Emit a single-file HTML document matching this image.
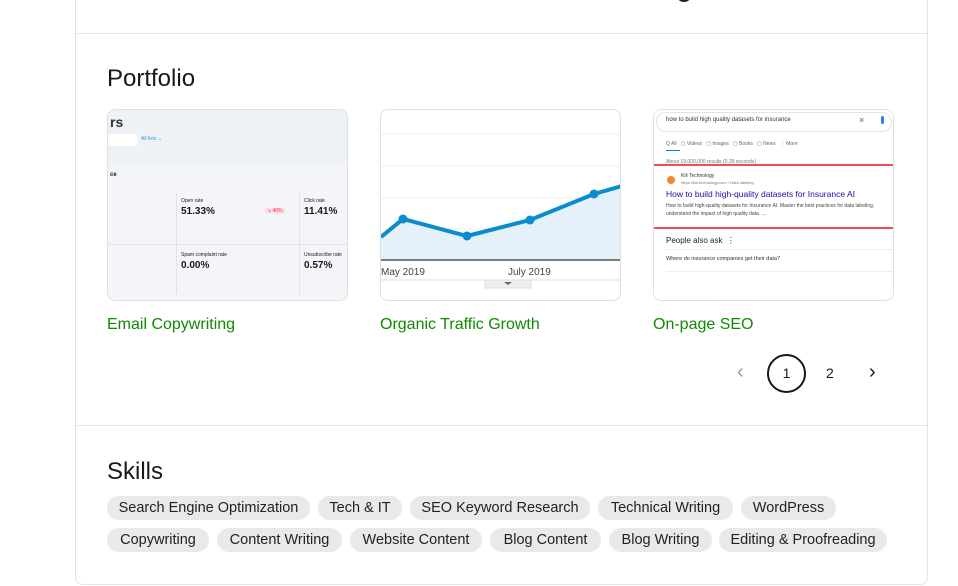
<!DOCTYPE html>
<html><head><meta charset="utf-8"><style>
*{margin:0;padding:0;box-sizing:border-box}
body{width:958px;height:586px;background:#fff;font-family:"Liberation Sans",sans-serif;color:#181818;position:relative;overflow:hidden}
.a{position:absolute}
.card{left:75px;top:-10px;width:853px;height:595px;border:1px solid #e4e4e4;border-top:none;border-radius:0 0 8px 8px}
.hr{height:1px;background:#e4e4e4;left:76px;width:851px}
.th{width:241px;height:192px;border:1px solid #e0e0e0;border-radius:8px;overflow:hidden;top:109px}
.tt{top:315px;color:#108a00;font-size:16px}
.pill{height:24px;background:#e9e9e9;border-radius:12px;font-size:14.5px;line-height:25px;text-align:center;color:#222}
h2{font-weight:400;font-size:24px;position:absolute}
</style></head><body>
<div class="a card"></div>
<div class="a" style="left:676px;top:-6px;width:16px;height:8px;background:#222;border-radius:0 0 8px 8px"></div>
<div class="a hr" style="top:33px"></div>
<div class="a hr" style="top:425px"></div>
<h2 style="left:107px;top:65px">Portfolio</h2>

<div class="a th" style="left:107px;background:#f3f5f8">
 <div class="a" style="left:0;top:0;width:241px;height:55px;background:#eef1f5"></div>
 <div class="a" style="left:2px;top:4px;font-size:14px;font-weight:700;color:#333">rs</div>
 <div class="a" style="left:0;top:24px;width:30px;height:12px;background:#fff;border-radius:3px"></div>
 <div class="a" style="left:33px;top:26px;font-size:5px;color:#3a9be0">All lists ⌄</div>
 <div class="a" style="left:2px;top:62px;font-size:6px;font-weight:700">ce</div>
 <div class="a" style="left:73px;top:88px;font-size:5px">Open rate</div>
 <div class="a" style="left:73px;top:96px;font-size:10px;font-weight:700">51.33%</div>
 <div class="a" style="left:196px;top:88px;font-size:5px">Click rate</div>
 <div class="a" style="left:196px;top:96px;font-size:10px;font-weight:700">11.41%</div>
 <div class="a" style="left:68px;top:84px;width:1px;height:100px;background:#e0e3e8"></div>
 <div class="a" style="left:191px;top:84px;width:1px;height:100px;background:#e0e3e8"></div>
 <div class="a" style="left:0;top:134px;width:241px;height:1px;background:#e0e3e8"></div>
 <div class="a" style="left:73px;top:142px;font-size:5px">Spam complaint rate</div>
 <div class="a" style="left:73px;top:150px;font-size:10px;font-weight:700">0.00%</div>
 <div class="a" style="left:196px;top:142px;font-size:5px">Unsubscribe rate</div>
 <div class="a" style="left:196px;top:150px;font-size:10px;font-weight:700">0.57%</div>
 <div class="a" style="left:157px;top:98px;font-size:5px;color:#e33;background:#fde;padding:0 2px">↘ 40%</div>
</div>

<div class="a th" style="left:380px;background:#fff">
 <svg width="241" height="192" class="a" style="left:0;top:0">
  <g stroke="#eee"><line x1="0" y1="24" x2="241" y2="24"/><line x1="0" y1="56" x2="241" y2="56"/><line x1="0" y1="88" x2="241" y2="88"/><line x1="0" y1="119" x2="241" y2="119"/></g>
  <polygon points="0,127 22,109 86,126 149,110 213,84 241,76 241,150 0,150" fill="#e5f1f9"/>
  <polyline points="0,127 22,109 86,126 149,110 213,84 241,76" fill="none" stroke="#0b8ccc" stroke-width="4"/>
  <g fill="#0b8ccc"><circle cx="22" cy="109" r="4.5"/><circle cx="86" cy="126" r="4.5"/><circle cx="149" cy="110" r="4.5"/><circle cx="213" cy="84" r="4.5"/></g>
  <line x1="0" y1="150" x2="241" y2="150" stroke="#555" stroke-width="1.5"/>
  <text x="0" y="165" font-size="10" fill="#444" font-family="Liberation Sans">May 2019</text>
  <text x="127" y="165" font-size="10" fill="#444" font-family="Liberation Sans">July 2019</text>
  <line x1="0" y1="170" x2="241" y2="170" stroke="#ddd"/>
  <rect x="104" y="170" width="46" height="8" fill="#eee" stroke="#ddd"/>
  <polygon points="123,172 131,172 127,175" fill="#666"/>
 </svg>
</div>

<div class="a th" style="left:653px;background:#fff">
 <div class="a" style="left:2px;top:2px;width:236px;height:20px;border:1px solid #e4e4e4;border-radius:10px"></div>
 <div class="a" style="left:12px;top:7px;font-size:6px;color:#333">how to build high quality datasets for insurance</div>
 <div class="a" style="left:205px;top:5px;font-size:9px;color:#555">×</div>
 <div class="a" style="left:227px;top:6px;width:3px;height:8px;background:#3b7be9;border-radius:2px"></div>
 <div class="a" style="left:12px;top:31px;font-size:5px;color:#666">Q All &nbsp; ▢ Videos &nbsp; ▢ Images &nbsp; ▢ Books &nbsp; ▢ News &nbsp; ⋮ More</div>
 <div class="a" style="left:12px;top:40px;width:14px;height:1px;background:#1a73e8"></div>
 <div class="a" style="left:12px;top:49px;font-size:5px;color:#777">About 19,000,000 results (0.39 seconds)</div>
 <div class="a" style="left:0;top:54px;width:241px;height:2px;background:#e8505b"></div>
 <div class="a" style="left:13px;top:66px;width:8px;height:8px;border-radius:50%;background:#f08a2a"></div>
 <div class="a" style="left:27px;top:63px;font-size:5px;color:#333">Kili Technology</div>
 <div class="a" style="left:27px;top:70px;font-size:4px;color:#777">https://kili-technology.com › Data labeling</div>
 <div class="a" style="left:12px;top:79px;font-size:8.5px;color:#1a0dab">How to build high-quality datasets for Insurance AI</div>
 <div class="a" style="left:12px;top:92px;font-size:5px;color:#444;width:225px;line-height:8px">How to build high-quality datasets for Insurance AI. Master the best practices for data labeling, understand the impact of high quality data. ...</div>
 <div class="a" style="left:0;top:117px;width:241px;height:2px;background:#e8505b"></div>
 <div class="a" style="left:12px;top:126px;font-size:8px;color:#222">People also ask &nbsp;⋮</div>
 <div class="a" style="left:12px;top:139px;width:228px;height:1px;background:#eee"></div>
 <div class="a" style="left:12px;top:146px;font-size:5.5px;color:#333">Where do insurance companies get their data?</div>
 <div class="a" style="left:12px;top:161px;width:228px;height:1px;background:#eee"></div>
</div>

<div class="a tt" style="left:107px;top:316px">Email Copywriting</div>
<div class="a tt" style="left:380px;top:316px">Organic Traffic Growth</div>
<div class="a tt" style="left:653px;top:316px">On-page SEO</div>

<div class="a" style="left:737px;top:361px;font-size:20px;color:#999">‹</div>
<div class="a" style="left:767px;top:354px;width:39px;height:39px;border:2px solid #181818;border-radius:50%;text-align:center;line-height:35px;font-size:14px">1</div>
<div class="a" style="left:826px;top:365px;font-size:14px">2</div>
<div class="a" style="left:869px;top:361px;font-size:20px;color:#181818">›</div>

<h2 style="left:107px;top:458px">Skills</h2>
<div class="a pill" style="left:107px;top:496px;width:203px">Search Engine Optimization</div>
<div class="a pill" style="left:318px;top:496px;width:84px">Tech &amp; IT</div>
<div class="a pill" style="left:410px;top:496px;width:180px">SEO Keyword Research</div>
<div class="a pill" style="left:598px;top:496px;width:135px">Technical Writing</div>
<div class="a pill" style="left:741px;top:496px;width:95px">WordPress</div>
<div class="a pill" style="left:107px;top:528px;width:102px">Copywriting</div>
<div class="a pill" style="left:217px;top:528px;width:125px">Content Writing</div>
<div class="a pill" style="left:350px;top:528px;width:132px">Website Content</div>
<div class="a pill" style="left:490px;top:528px;width:111px">Blog Content</div>
<div class="a pill" style="left:609px;top:528px;width:103px">Blog Writing</div>
<div class="a pill" style="left:719px;top:528px;width:168px">Editing &amp; Proofreading</div>
</body></html>
